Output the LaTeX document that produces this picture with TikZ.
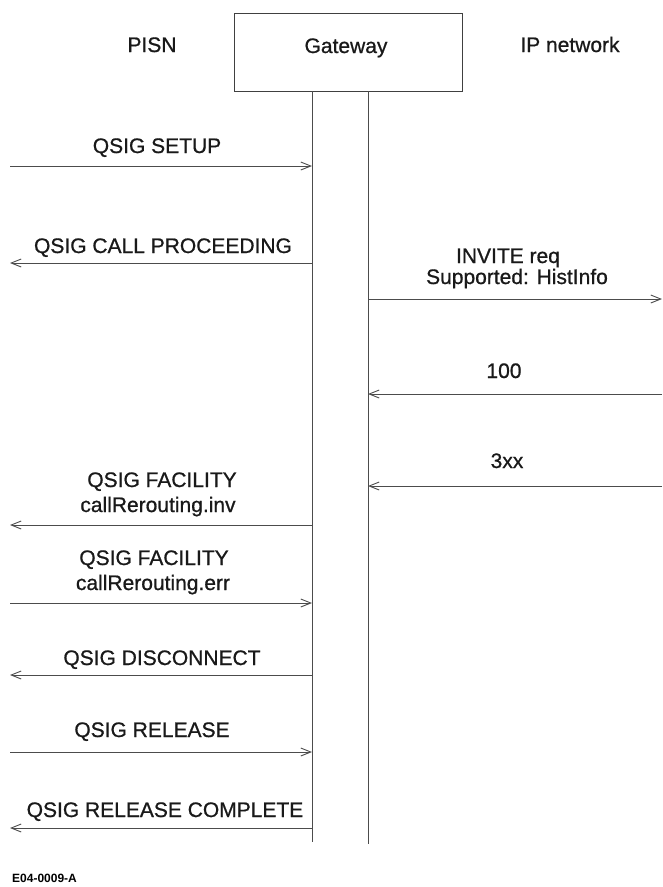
\documentclass[tikz,border=0pt]{standalone}
\usepackage{fontspec}
\setmainfont{Liberation Sans}
\newfontfamily\msgfont{Liberation Sans}[FakeBold=0.8]
\usetikzlibrary{arrows.meta, positioning}

\begin{document}
\begin{tikzpicture}[x=1pt, y=-1pt,
        lbl/.style={font=\msgfont\fontsize{21}{25}\selectfont, anchor=base, inner sep=0pt, text=black!90},
        msg/.style={line width=0.9pt, draw=black!70, -{Straight Barb[length=10pt, width=8pt]}},
        life/.style={line width=0.9pt, draw=black!70}]
        \useasboundingbox (0,0) rectangle (662,887);

        % entities
        \node[draw=black!75, line width=0.9pt, minimum width=228pt, minimum height=78pt, inner sep=0pt] (gw) at (348,52) {};
        \node[lbl] (gwtxt) at (346,53) {Gateway};
        \node[lbl] (pisn) at (152,52) {PISN};
        \node[lbl] (ipnet) at (570,52) {IP network};

        % lifelines
        \coordinate (gl) at (312,91);
        \coordinate (gr) at (368,91);
        \coordinate (glend) at (312,842);
        \coordinate (grend) at (368,844);
        \draw[life] (gl) -- (glend);
        \draw[life] (gr) -- (grend);

        % message ends
        \coordinate (setupA) at (10,166);   \coordinate (setupB) at (312,166);
        \coordinate (procA) at (312,263);   \coordinate (procB) at (10,263);
        \coordinate (invA) at (368,299);    \coordinate (invB) at (662,299);
        \coordinate (tryA) at (662,394);    \coordinate (tryB) at (368,394);
        \coordinate (redA) at (662,486);    \coordinate (redB) at (368,486);
        \coordinate (facA) at (312,525);    \coordinate (facB) at (10,525);
        \coordinate (errA) at (10,603);     \coordinate (errB) at (312,603);
        \coordinate (discA) at (312,675);   \coordinate (discB) at (10,675);
        \coordinate (relA) at (10,752);     \coordinate (relB) at (312,752);
        \coordinate (rcA) at (312,828);     \coordinate (rcB) at (10,828);

        % messages
        \draw[msg] (setupA) -- (setupB);
        \draw[msg] (procA) -- (procB);
        \draw[msg] (invA) -- (invB);
        \draw[msg] (tryA) -- (tryB);
        \draw[msg] (redA) -- (redB);
        \draw[msg] (facA) -- (facB);
        \draw[msg] (errA) -- (errB);
        \draw[msg] (discA) -- (discB);
        \draw[msg] (relA) -- (relB);
        \draw[msg] (rcA) -- (rcB);

        % labels
        \node[lbl] (setup) at (157,153) {QSIG SETUP};
        \node[lbl] (proc) at (163,253) {QSIG CALL PROCEEDING};
        \node[lbl] (inv1) at (508,263) {INVITE req};
        \node[lbl] (inv2) at (517,284) {Supported: HistInfo};
        \node[lbl] (try) at (504,378) {100};
        \node[lbl] (red) at (507,468) {3xx};
        \node[lbl] (fac1) at (162,487) {QSIG FACILITY};
        \node[lbl] (fac2) at (158,512) {callRerouting.inv};
        \node[lbl] (err1) at (154,565) {QSIG FACILITY};
        \node[lbl] (err2) at (153,590) {callRerouting.err};
        \node[lbl] (disc) at (162,665) {QSIG DISCONNECT};
        \node[lbl] (rel) at (152,737) {QSIG RELEASE};
        \node[lbl] (rc) at (165,817) {QSIG RELEASE COMPLETE};

        \node[font=\fontsize{12}{14}\bfseries, anchor=base west, inner sep=0pt] (figno) at (12,882) {E04-0009-A};
    \end{tikzpicture}
\end{document}
